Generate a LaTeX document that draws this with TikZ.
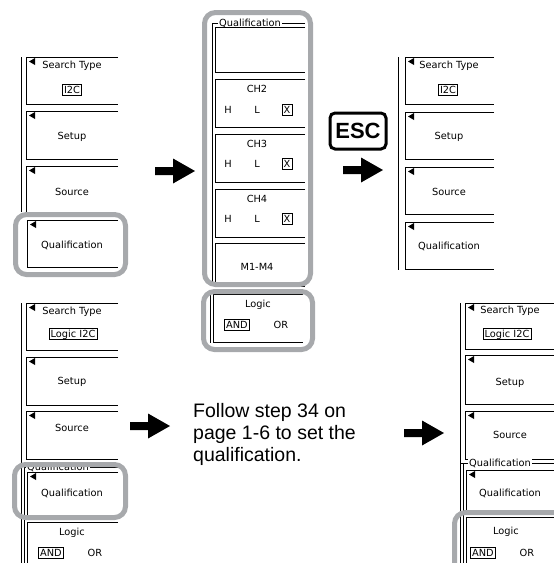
\documentclass[tikz,border=0pt]{standalone}
\usepackage{fontspec}
\setmainfont{Liberation Sans}
\newfontfamily\uifont{DejaVu Sans}
\definecolor{hlgray}{RGB}{167,169,172}
\newcommand{\uibtn}[4]{\draw[btnline] (#3,#2) -- (#1,#2) -- (#1,#4) -- (#3,#4);}
\newcommand{\uitri}[2]{\fill (#1+3,#2+4.5) -- (#1+9,#2+1) -- (#1+9,#2+8) -- cycle;}
\newcommand{\blkarrow}[2]{\fill (#1,#2-4) -- (#1+18,#2-4) -- (#1+18,#2-12.5) -- (#1+40,#2) -- (#1+18,#2+12.5) -- (#1+18,#2+4) -- (#1,#2+4) -- cycle;}
\begin{document}
\begin{tikzpicture}[x=1pt,y=-1pt,
  lbl/.style={font=\uifont\fontsize{9.8}{12}\selectfont, inner sep=0pt},
  valbox/.style={lbl, draw, line width=0.6pt, inner xsep=1.8pt, inner ysep=1.6pt, text height=7.4pt, text depth=0pt},
  grpl/.style={lbl, fill=white, inner xsep=1pt},
  grayframe/.style={draw=hlgray, line width=5pt, rounded corners=11pt},
  btnline/.style={line width=0.7pt},
  panelline/.style={line width=0.7pt},
  bigtxt/.style={font=\fontsize{19.5}{22}\selectfont, inner sep=0pt, anchor=base west}]
\useasboundingbox (0,0) rectangle (554,563);
\begin{scope}
\clip (0,0) rectangle (554,563);
% ---------- Panel A (top left)
\draw[panelline] (21,57) -- (21,212);
\uibtn{26}{57}{118}{104}\uitri{26}{57}
\node[lbl] (a1) at (72,66) {Search Type};
\node[valbox] (a1v) at (72,90) {I2C};
\uibtn{26}{111}{118}{159}\uitri{26}{111}
\node[lbl] (a2) at (72,137) {Setup};
\uibtn{26}{166}{118}{214}\uitri{26}{166}
\node[lbl] (a3) at (72,192) {Source};
\uibtn{27}{220}{118}{267}\uitri{27}{220}
\node[lbl] (a4) at (72,245) {Qualification};
\draw[grayframe] (15.5,214.5) rectangle (125.5,274.5);
% ---------- Arrow 1
\blkarrow{155}{171}
% ---------- Panel B (middle)
\draw[panelline] (305,23) -- (212,23) -- (212,285);
\node[grpl] (bq) at (250,23) {Qualification};
\uibtn{215}{27}{305}{72}
\uibtn{215}{79}{305}{127}
\node[lbl] (b2) at (257,89) {CH2};
\node[lbl] (b2h) at (228,110) {H};
\node[lbl] (b2l) at (257,110) {L};
\node[valbox] (b2x) at (287,110) {X};
\uibtn{215}{134}{305}{182}
\node[lbl] (b3) at (257,144) {CH3};
\node[lbl] (b3h) at (228,164) {H};
\node[lbl] (b3l) at (257,164) {L};
\node[valbox] (b3x) at (287,164) {X};
\uibtn{215}{189}{305}{237}
\node[lbl] (b4) at (257,199) {CH4};
\node[lbl] (b4h) at (228,219) {H};
\node[lbl] (b4l) at (257,219) {L};
\node[valbox] (b4x) at (287,219) {X};
\uibtn{215}{243}{305}{286}
\node[lbl] (bm) at (257,267) {M1-M4};
\draw[grayframe] (204.5,12.5) rectangle (310.5,284.5);
\draw[panelline] (210,294) -- (210,343);
\uibtn{213}{294}{303}{342}
\node[lbl] (bl) at (258,305) {Logic};
\node[valbox] (band) at (237,325) {AND};
\node[lbl] (bor) at (281,325) {OR};
\draw[grayframe] (203.5,291.5) rectangle (312.5,349.5);
% ---------- ESC and arrow 2
\draw[line width=3pt, rounded corners=5pt] (330,113) rectangle (386,149);
\node[font=\fontsize{22}{24}\bfseries, inner sep=0pt] (esc) at (358,131) {ESC};
\blkarrow{343}{170}
% ---------- Panel C (top right)
\draw[panelline] (398,57) -- (398,270);
\uibtn{405}{57}{494}{104}\uitri{405}{57}
\node[lbl] (c1) at (449,66) {Search Type};
\node[valbox] (c1v) at (448,90) {I2C};
\uibtn{405}{112}{494}{159}\uitri{405}{112}
\node[lbl] (c2) at (449,137) {Setup};
\uibtn{405}{167}{494}{214}\uitri{405}{167}
\node[lbl] (c3) at (449,192) {Source};
\uibtn{405}{222}{494}{269}\uitri{405}{222}
\node[lbl] (c4) at (449,246) {Qualification};
% ---------- Panel D (bottom left)
\draw[panelline] (21,303) -- (21,563);
\draw[panelline] (24,467) -- (24,563);
\uibtn{26}{303}{118}{350}\uitri{26}{303}
\node[lbl] (d1) at (72,312) {Search Type};
\node[valbox] (d1v) at (73,334) {Logic I2C};
\uibtn{26}{357}{118}{405}\uitri{26}{357}
\node[lbl] (d2) at (72,382) {Setup};
\uibtn{26}{411}{118}{459}\uitri{26}{411}
\node[lbl] (d3) at (72,428) {Source};
\draw[panelline] (24,467) -- (118,467);
\node[grpl] (dq) at (58,467) {Qualification};
\uibtn{27}{472}{118}{516}\uitri{27}{472}
\node[lbl] (d4) at (72,493) {Qualification};
\uibtn{27}{522}{118}{575}
\node[lbl] (dl) at (72,533) {Logic};
\node[valbox] (dand) at (51,553) {AND};
\node[lbl] (dor) at (95,553) {OR};
\draw[grayframe] (14.5,464.5) rectangle (125.5,517.5);
% ---------- arrows bottom
\blkarrow{130}{426}
\blkarrow{404}{433}
% ---------- text
\node[bigtxt] (t1) at (193,417) {Follow step 34 on};
\node[bigtxt] (t2) at (193,439) {page 1-6 to set the};
\node[bigtxt] (t3) at (193,461) {qualification.};
% ---------- Panel E (bottom right)
\draw[panelline] (460,303) -- (460,563);
\draw[panelline] (463,463) -- (463,563);
\uibtn{465}{303}{560}{349}\uitri{465}{303}
\node[lbl] (e1) at (510,311) {Search Type};
\node[valbox] (e1v) at (507,334) {Logic I2C};
\uibtn{465}{355}{560}{404}\uitri{465}{355}
\node[lbl] (e2) at (510,383) {Setup};
\uibtn{465}{411}{560}{459}\uitri{465}{411}
\node[lbl] (e3) at (510,435) {Source};
\draw[panelline] (460,463) -- (560,463);
\node[grpl] (eq) at (500,463) {Qualification};
\uibtn{466}{470}{560}{512}\uitri{466}{470}
\node[lbl] (e4) at (510,493) {Qualification};
\uibtn{466}{517}{560}{575}
\node[lbl] (el) at (506,532) {Logic};
\node[valbox] (eand) at (483,553) {AND};
\node[lbl] (eor) at (527,553) {OR};
\draw[grayframe] (454.5,512.5) rectangle (580,590);
\end{scope}
\end{tikzpicture}
\end{document}
